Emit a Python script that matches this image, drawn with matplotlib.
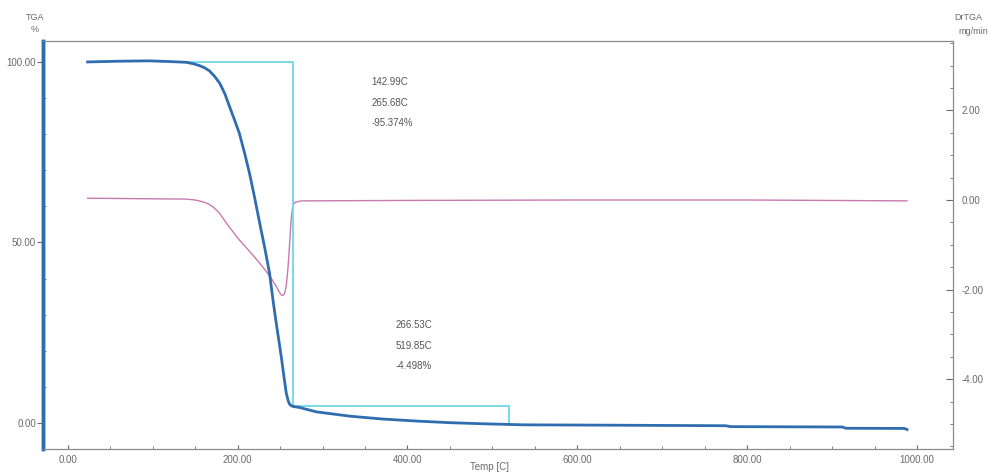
import matplotlib
matplotlib.use("Agg")
import matplotlib.pyplot as plt
from matplotlib.ticker import MultipleLocator, FormatStrFormatter

plt.rcParams['font.family'] = ['Liberation Sans', 'DejaVu Sans']

# TGA curve (weight %, left axis)
tga_temp = [23.5, 60, 96.5, 120, 139.6, 148, 155, 161, 167, 173, 179, 185,
            190.6, 196, 202, 208, 214, 220, 226, 232, 237.6, 242, 245.5,
            248.5, 251.4, 254.5, 257.3, 259.5, 261, 263, 266, 273, 292.6,
            332, 371, 410, 449, 488, 536, 641, 775, 780, 912, 916, 985, 988]
tga_val = [100.0, 100.2, 100.3, 100.1, 99.9, 99.5, 99.0, 98.4, 97.5, 96.0,
           94.1, 91.2, 87.6, 84.2, 80.3, 75.0, 69.2, 62.5, 55.4, 48.5, 41.5,
           33.5, 27.7, 23.0, 18.4, 13.0, 8.3, 6.2, 5.3, 4.8, 4.55, 4.3, 3.1,
           1.9, 1.1, 0.55, 0.1, -0.2, -0.5, -0.6, -0.75, -1.0, -1.1, -1.45,
           -1.5, -1.8]

# DrTGA curve (mg/min, right axis)
dtg_temp = [23.5, 80, 139.6, 150, 159, 165, 171, 179, 187, 195, 202, 210,
            218, 226, 234, 240, 245.5, 249, 251.4, 253.5, 255.5, 257, 258.5,
            260, 261.5, 263, 264.5, 266, 268, 275, 400, 600, 800, 988]
dtg_val = [0.04, 0.03, 0.02, 0.0, -0.04, -0.08, -0.15, -0.3, -0.52, -0.72,
           -0.89, -1.06, -1.23, -1.41, -1.6, -1.76, -1.93, -2.05, -2.12,
           -2.13, -2.08, -1.95, -1.7, -1.35, -0.9, -0.45, -0.2, -0.09, -0.05,
           -0.02, -0.01, 0.0, 0.0, -0.02]

# weight-loss step markers
step_temp = [142.99, 265.68, 265.68, 519.85, 519.85]
step_val = [100.0, 100.0, 4.626, 4.626, 0.128]

step1_text = ["142.99C", "265.68C", "-95.374%"]
step2_text = ["266.53C", "519.85C", "-4.498%"]

grey = '#6a6a6a'
fig = plt.figure(figsize=(9.89, 4.75), dpi=100)
ax = fig.add_axes([0.0435, 0.0547, 0.92, 0.859])
ax2 = ax.twinx()
ax.set_zorder(ax2.get_zorder() + 1)
ax.patch.set_visible(False)

ax2.plot(dtg_temp, dtg_val, color='#c77ab0', lw=1.0)
ax.plot(step_temp, step_val, color='#6fd8e6', lw=1.3, zorder=1)
ax.plot(tga_temp, tga_val, color='#2f6db0', lw=2.0, zorder=2)

ax.set_xlim(-29, 1042)
ax.set_ylim(-7.2, 105.8)
ax2.set_ylim(-5.56, 3.55)

ax.xaxis.set_major_locator(MultipleLocator(200))
ax.xaxis.set_minor_locator(MultipleLocator(50))
ax.yaxis.set_major_locator(MultipleLocator(50))
ax.yaxis.set_minor_locator(MultipleLocator(10))
ax2.yaxis.set_major_locator(MultipleLocator(2))
ax2.yaxis.set_minor_locator(MultipleLocator(0.5))
for f in (ax.xaxis, ax.yaxis, ax2.yaxis):
    f.set_major_formatter(FormatStrFormatter('%.2f'))

ax.tick_params(axis='x', which='major', direction='in', length=3, colors=grey,
               labelsize=7, pad=4)
ax.tick_params(axis='x', which='minor', direction='in', length=2, colors=grey)
ax.tick_params(axis='y', which='major', direction='out', length=4, colors=grey,
               labelsize=7, pad=1)
ax.tick_params(axis='y', which='minor', direction='in', length=2, colors=grey)
ax2.tick_params(axis='y', which='major', direction='in', length=5, colors=grey,
                labelsize=7, pad=6)
ax2.tick_params(axis='y', which='minor', direction='in', length=2, colors=grey)

for a in (ax, ax2):
    a.spines['top'].set_color('#8a8a8a')
    a.spines['bottom'].set_color('#8a8a8a')
    a.spines['right'].set_color('#8a8a8a')
    a.spines['left'].set_color('#2f6db0')
    a.spines['left'].set_linewidth(2.5)

for i, t in enumerate(step1_text):
    ax.text(358, 93.5 - i * 5.6, t, fontsize=7, color='#555555')
for i, t in enumerate(step2_text):
    ax.text(386, 26.2 - i * 5.6, t, fontsize=7, color='#555555')

fig.text(35 / 989, 1 - 17 / 475, "TGA", fontsize=6.5, color=grey, ha='center', va='center')
fig.text(35 / 989, 1 - 29 / 475, "%", fontsize=6.5, color=grey, ha='center', va='center')
fig.text(968 / 989, 1 - 18 / 475, "DrTGA", fontsize=6.5, color=grey, ha='center', va='center')
fig.text(958 / 989, 1 - 31 / 475, "mg/min", fontsize=6.5, color=grey, ha='left', va='center')
fig.text(490 / 989, 1 - 467 / 475, "Temp [C]", fontsize=7, color=grey, ha='center', va='center')

fig.savefig("out.png", dpi=100)
